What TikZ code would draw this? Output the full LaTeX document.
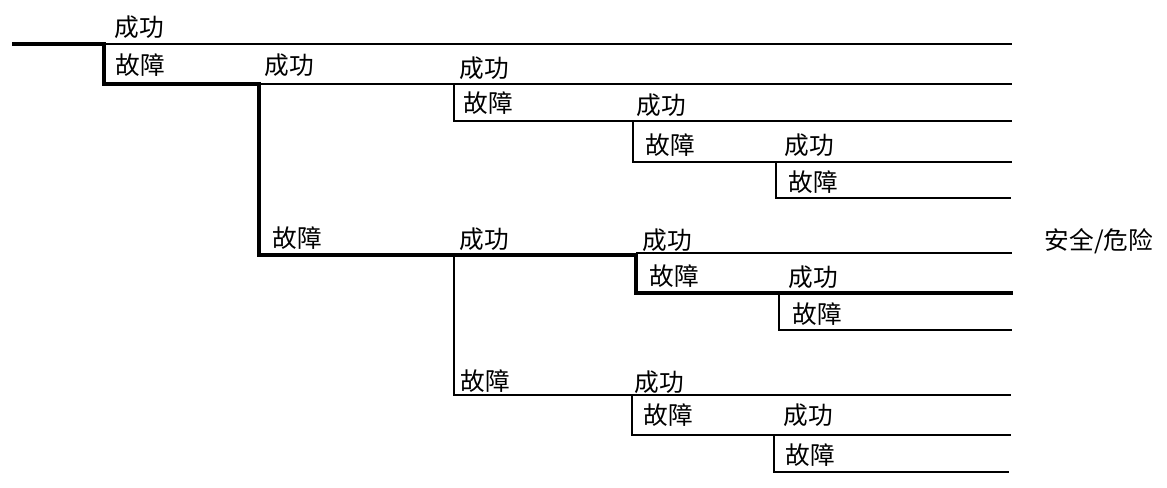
\documentclass[tikz,border=0pt]{standalone}
\usepackage{fontspec}
\setmainfont{Noto Sans CJK SC}
\begin{document}
\begin{tikzpicture}[x=0.75pt,y=-0.75pt,
  branch/.style={line width=0.8pt, line join=miter},
  path route/.style={line width=3.6pt, line join=miter, line cap=butt},
  lbl/.style={inner sep=0pt, font=\fontsize{18.5}{18.5}\selectfont}]
\useasboundingbox (0,0) rectangle (1167,488);
% coordinates
\coordinate (s0) at (12,44);
\coordinate (a) at (104,44);   \coordinate (aF) at (104,84);
\coordinate (aS) at (1012,44);
\coordinate (b) at (259,84);   \coordinate (bF) at (259,255);
\coordinate (bS) at (1012,84);
\coordinate (c) at (454,84);   \coordinate (cF) at (454,121);
\coordinate (cFe) at (1012,121);
\coordinate (d) at (633,121);  \coordinate (dF) at (633,162);
\coordinate (dFe) at (1012,162);
\coordinate (e) at (776,162);  \coordinate (eF) at (776,198);
\coordinate (eFe) at (1011,198);
\coordinate (f) at (454,255);  \coordinate (fF) at (454,395);
\coordinate (fFe) at (1011,395);
\coordinate (g) at (636,255);  \coordinate (gS) at (636,253);
\coordinate (gSe) at (1012,253);
\coordinate (gF) at (636,293); \coordinate (gFe) at (1013,293);
\coordinate (h) at (779,293);  \coordinate (hF) at (779,330);
\coordinate (hFe) at (1012,330);
\coordinate (i) at (632,395);  \coordinate (iF) at (632,435);
\coordinate (iFe) at (1011,435);
\coordinate (j) at (774,435);  \coordinate (jF) at (774,472);
\coordinate (jFe) at (1009,472);
% thin branches
\draw[branch] (a) -- (aS);
\draw[branch] (b) -- (bS);
\draw[branch] (c) -- (cF) -- (cFe);
\draw[branch] (d) -- (dF) -- (dFe);
\draw[branch] (e) -- (eF) -- (eFe);
\draw[branch] (gS) -- (gSe);
\draw[branch] (h) -- (hF) -- (hFe);
\draw[branch] (f) -- (fF) -- (fFe);
\draw[branch] (i) -- (iF) -- (iFe);
\draw[branch] (j) -- (jF) -- (jFe);
% highlighted sequence
\draw[path route] (s0) -- (a) -- (aF) -- (b) -- (bF) -- (g) -- (gF) -- (gFe);
% labels
\node[lbl] (l1)  at (139,27)  {成功};
\node[lbl] (l2)  at (140,65)  {故障};
\node[lbl] (l3)  at (289,65)  {成功};
\node[lbl] (l4)  at (484,68)  {成功};
\node[lbl] (l5)  at (488,103) {故障};
\node[lbl] (l6)  at (661,105) {成功};
\node[lbl] (l7)  at (670,145) {故障};
\node[lbl] (l8)  at (809,145) {成功};
\node[lbl] (l9)  at (813,182) {故障};
\node[lbl] (l10) at (297,238) {故障};
\node[lbl] (l11) at (484,239) {成功};
\node[lbl] (l12) at (667,240) {成功};
\node[lbl] (l13) at (674,276) {故障};
\node[lbl] (l14) at (813,277) {成功};
\node[lbl] (l15) at (817,314) {故障};
\node[lbl] (l16) at (485,381) {故障};
\node[lbl] (l17) at (659,382) {成功};
\node[lbl] (l18) at (668,415) {故障};
\node[lbl] (l19) at (808,415) {成功};
\node[lbl] (l20) at (810,455) {故障};
\node[lbl] (res) at (1099,241) {安全/危险};
\end{tikzpicture}
\end{document}
